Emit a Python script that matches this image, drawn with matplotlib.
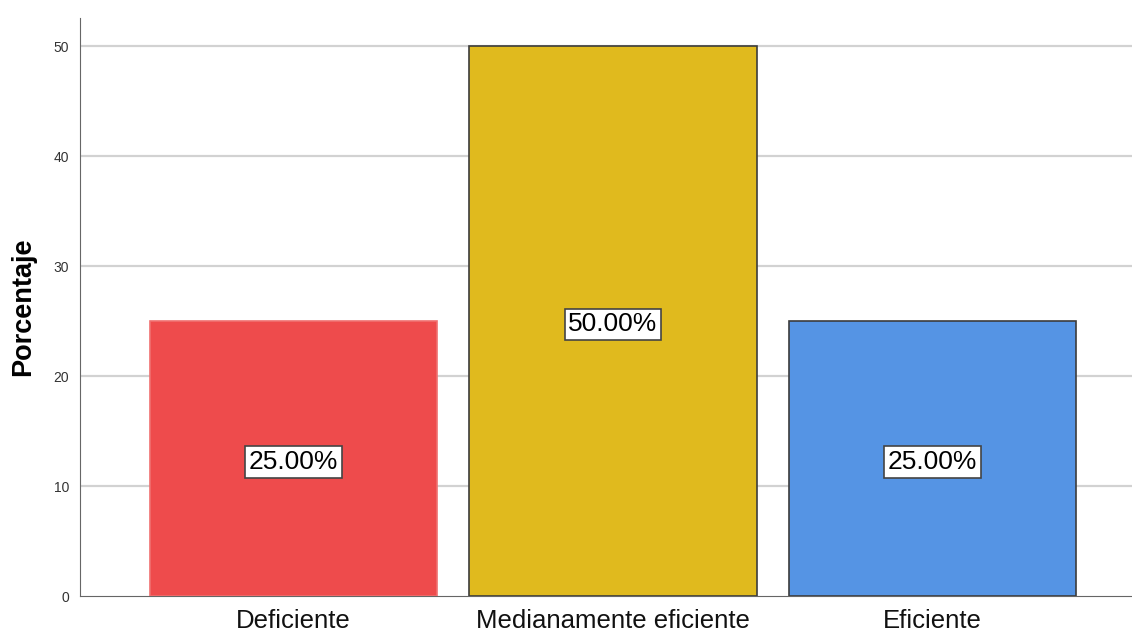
import matplotlib.pyplot as plt

categorias = ['Deficiente', 'Medianamente eficiente', 'Eficiente']
porcentajes = [25.0, 50.0, 25.0]
etiquetas = ['25.00%', '50.00%', '25.00%']
colores = ['#EE4B4C', '#E0BA1E', '#5594E4']
bordes = ['#F07070', '#3C3C3C', '#3C3C3C']

plt.rcParams['font.family'] = ['Liberation Sans', 'DejaVu Sans']

fig = plt.figure(figsize=(11.32, 6.31), dpi=100)
ax = fig.add_axes([80 / 1132, 35 / 631, 1 - 80 / 1132, (596 - 18) / 631])

x = range(len(categorias))
bars = ax.bar(x, porcentajes, width=0.9, color=colores, edgecolor=bordes,
              linewidth=1.2, zorder=3)

# etiquetas de valor en el centro de cada barra
for b, txt in zip(bars, etiquetas):
    ax.text(b.get_x() + b.get_width() / 2, b.get_height() / 2 - 0.3, txt,
            ha='center', va='center', fontsize=19, color='black', zorder=4,
            bbox=dict(boxstyle='square,pad=0.14', facecolor='white',
                      edgecolor='#444444', linewidth=1.2))

ax.set_xlim(-0.668, 2.624)
ax.set_ylim(0, 52.55)
ax.set_yticks([0, 10, 20, 30, 40, 50])
ax.set_xticks(list(x))
ax.set_xticklabels(categorias, fontsize=18.5, color='#111111')
ax.tick_params(axis='y', labelsize=10, colors='#333333', length=0, pad=8)
ax.tick_params(axis='x', length=0, pad=9)

for y in [10, 20, 30, 40, 50]:
    ax.axhline(y, color='#D2D2D2', linewidth=1.6, zorder=1)

for s in ['top', 'right']:
    ax.spines[s].set_visible(False)
ax.spines['left'].set_color('#666666')
ax.spines['bottom'].set_color('#666666')

ax.set_ylabel('Porcentaje', fontsize=19.5, fontweight='bold', labelpad=12)

fig.savefig('out.png', dpi=100)
